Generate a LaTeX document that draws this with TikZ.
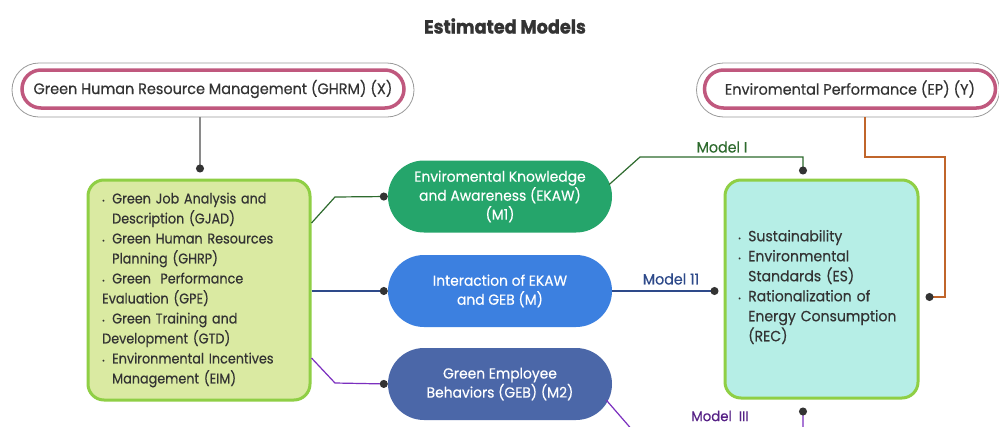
\documentclass[tikz,border=0pt]{standalone}
\usepackage{fontspec}
\setmainfont{Poppins}[FakeStretch=0.95, FakeBold=0.35]
\newfontfamily\narrowf{Poppins}[FakeStretch=0.9, FakeBold=0.35]
\newfontfamily\titlef{Poppins}[FakeStretch=0.93, FakeBold=1.2]
\usetikzlibrary{arrows.meta,calc}
\definecolor{txt}{HTML}{333333}
\definecolor{outgrey}{HTML}{9A9A9A}
\definecolor{pinkb}{HTML}{C0587E}
\definecolor{ekawc}{HTML}{25A56B}
\definecolor{interc}{HTML}{3C80E0}
\definecolor{gebc}{HTML}{4B67A8}
\definecolor{lfill}{HTML}{DAEAA2}
\definecolor{rfill}{HTML}{B6EEE6}
\definecolor{boxg}{HTML}{8FCF45}
\definecolor{gline}{HTML}{2E6B2E}
\definecolor{bline}{HTML}{2E4A8A}
\definecolor{pline}{HTML}{7B2FBF}
\definecolor{oline}{HTML}{C0652B}
\definecolor{gryline}{HTML}{8A8A8A}
\definecolor{dotc}{HTML}{333333}
\newcommand\bu{\makebox[10pt][l]{\raisebox{0.5pt}{\scriptsize\textbullet}}}
\newcommand\ind{\hspace*{10pt}}
\begin{document}
\begin{tikzpicture}[x=1pt,y=-1pt,
  capsout/.style={draw=outgrey, line width=0.8pt, fill=white, rounded corners=27pt, minimum height=54pt, inner sep=0pt},
  capsin/.style={draw=pinkb, line width=3.5pt, fill=white, rounded corners=19pt, minimum height=38pt, inner sep=0pt, text=txt, font=\fontsize{15.2}{17}\selectfont},
  pill/.style={rounded corners=36pt, minimum width=224pt, minimum height=72pt, inner sep=0pt, text=white, align=center, font=\fontsize{14.6}{19}\selectfont},
  bigbox/.style={draw=boxg, line width=3pt, rounded corners=16pt, inner sep=0pt},
  boxtext/.style={anchor=west, align=left, text=txt, inner sep=0pt},
  conn/.style={line width=1.2pt, -{Circle[length=8pt,width=8pt,color=dotc]}},
  mlabel/.style={font=\fontsize{15}{17}\selectfont, inner sep=0pt}
]
\clip (0,0) rectangle (999,426);
\fill[white] (0,0) rectangle (999,426);

\node[font=\titlef\bfseries\fontsize{19}{22}\selectfont, text=txt] (title) at (505,26) {Estimated Models};

% top capsules
\node[capsout, minimum width=402pt] (ghrmo) at (213,90) {};
\node[capsin, minimum width=382pt] (ghrm) at (213,89) {Green Human Resource Management (GHRM) (X)};
\node[capsout, minimum width=303pt] (epo) at (848,90) {};
\node[capsin, minimum width=291pt] (ep) at (850,89) {Enviromental Performance (EP) (Y)};

% big boxes
\node[bigbox, fill=lfill, minimum width=222pt, minimum height=220pt] (lbox) at (199,290) {};
\node[boxtext, text width=210pt, font=\narrowf\fontsize{14.2}{20}\selectfont] (ltext) at (102,290) {%
\bu Green Job Analysis and\\
\ind Description (GJAD)\\
\bu Green Human Resources\\
\ind Planning (GHRP)\\
\bu Green\ \ Performance\\
Evaluation (GPE)\\
\bu Green Training and\\
Development (GTD)\\
\bu Environmental Incentives\\
\ind Management (EIM)};
\node[bigbox, fill=rfill, minimum width=193pt, minimum height=218pt] (rbox) at (821.5,289) {};
\node[boxtext, text width=170pt, font=\fontsize{14.8}{20}\selectfont] (rtext) at (738,287) {%
\bu Sustainability\\
\bu Environmental\\
\ind Standards (ES)\\
\bu Rationalization of\\
\ind Energy Consumption\\
\ind (REC)};

% pills
\node[pill, fill=ekawc] (ekaw) at (500,196.5) {Enviromental Knowledge\\and Awareness (EKAW)\\(M1)};
\node[pill, fill=interc] (inter) at (500,291) {Interaction of EKAW\\and GEB (M)};
\node[pill, fill=gebc] (geb) at (500,384) {Green Employee\\Behaviors (GEB) (M2)};

% connectors
\draw[conn, gryline] (ghrmo.south -| 200,0) -- ($(lbox.north -| 200,0)+(0,-6)$);

\coordinate (g1) at (335,197);
\draw[conn, gline] ($(lbox.east)+(0,-67)$) -- (g1) -- (ekaw.west);
\coordinate (m1a) at (640,157);
\coordinate (m1b) at (803,157);
\draw[conn, gline] ($(ekaw.east)+(-3,-12)$) -- (m1a) -- (m1b) -- ($(rbox.north -| m1b)+(0,-4)$);
\node[mlabel, text=gline] (lm1) at (722,147) {Model I};

\draw[conn, bline] (lbox.east |- inter.west) -- (inter.west);
\draw[conn, bline] (inter.east) -- ($(inter.east -| rbox.west)+(-5,0)$);
\node[mlabel, text=bline] (lm2) at (671,279) {Model 11};

\coordinate (p1) at (335,383);
\draw[conn, pline] ($(lbox.east)+(0,68)$) -- (p1) -- (geb.west);
\coordinate (p2) at (634,432);
\coordinate (p3) at (803,432);
\draw[conn, pline] ($(geb.east)+(-6,16)$) -- (p2) -- (p3) -- ($(rbox.south -| p3)+(0,8)$);
\node[mlabel, text=pline!70!black, font=\fontsize{14}{16}\selectfont] (lm3) at (720,416) {Model\ \ III};

\coordinate (o1) at (865,157);
\coordinate (o2) at (945,157);
\coordinate (o3) at (945,297);
\draw[conn, oline] (epo.south -| o1) -- (o1) -- (o2) -- (o3) -- ($(rbox.east |- o3)+(6,0)$);
\end{tikzpicture}
\end{document}
